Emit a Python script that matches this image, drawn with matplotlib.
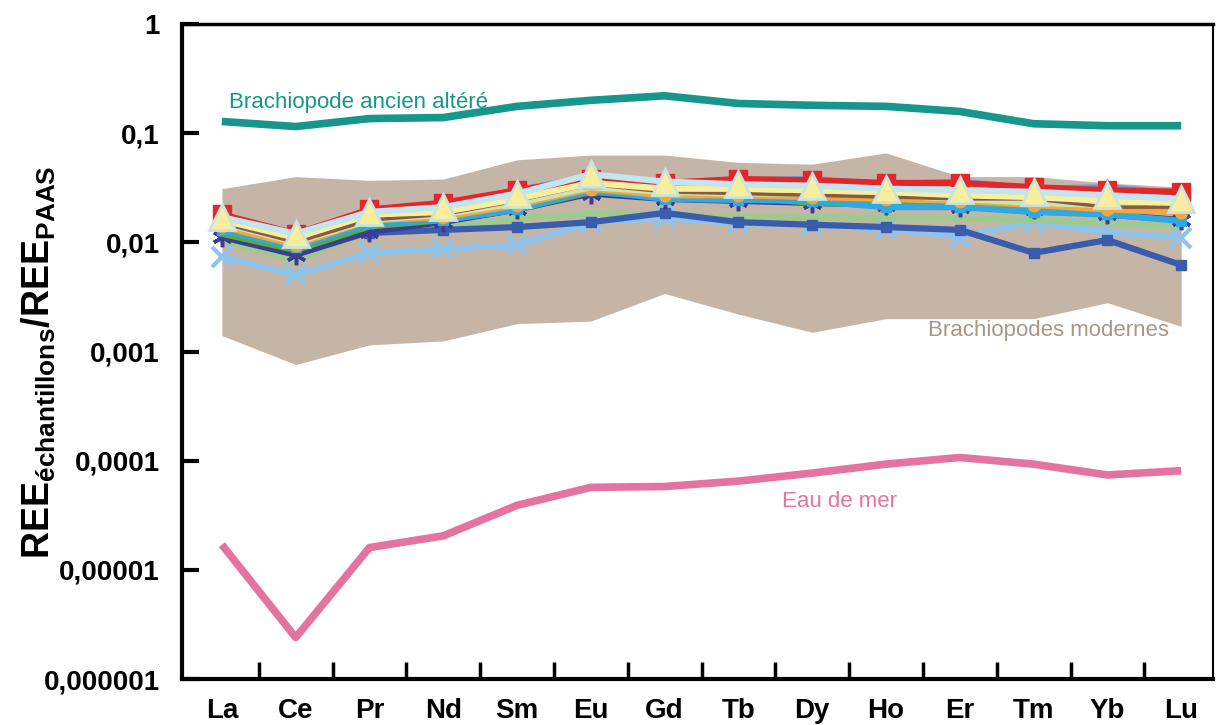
import matplotlib
matplotlib.use("Agg")
import matplotlib.pyplot as plt
import numpy as np

#--- terres rares ---#
elements = ["La", "Ce", "Pr", "Nd", "Sm", "Eu", "Gd", "Tb", "Dy", "Ho", "Er", "Tm", "Yb", "Lu"]

# brachiopodes modernes (enveloppe)
band_haut = [0.031, 0.040, 0.037, 0.038, 0.057, 0.063, 0.063, 0.054, 0.052, 0.066, 0.040, 0.040, 0.035, 0.032]
band_bas = [0.0014, 0.00076, 0.00115, 0.00125, 0.0018, 0.0019, 0.0034, 0.0022, 0.0015, 0.0020, 0.0020, 0.0020, 0.0028, 0.0017]

# brachiopode ancien altere
ancien = [0.128, 0.115, 0.136, 0.139, 0.176, 0.20, 0.22, 0.187, 0.18, 0.176, 0.158, 0.122, 0.117, 0.117]

# eau de mer
eau_mer = [1.7e-5, 2.4e-6, 1.6e-5, 2.05e-5, 3.9e-5, 5.7e-5, 5.8e-5, 6.5e-5, 7.7e-5, 9.3e-5, 1.07e-4, 9.3e-5, 7.4e-5, 8.1e-5]

# echantillons
ech_rouge = [0.018, 0.012, 0.020, 0.023, 0.030, 0.038, 0.035, 0.038, 0.037, 0.035, 0.035, 0.032, 0.030, 0.029]
ech_bleu_moyen = [0.017, 0.011, 0.019, 0.022, 0.030, 0.040, 0.035, 0.037, 0.038, 0.034, 0.036, 0.031, 0.032, 0.028]
ech_cyan_pale = [0.017, 0.012, 0.019, 0.021, 0.028, 0.042, 0.036, 0.034, 0.033, 0.031, 0.030, 0.029, 0.027, 0.025]
ech_jaune = [0.016, 0.011, 0.018, 0.019, 0.025, 0.035, 0.031, 0.031, 0.030, 0.029, 0.027, 0.026, 0.024, 0.023]
ech_brun = [0.015, 0.010, 0.016, 0.018, 0.024, 0.034, 0.029, 0.028, 0.027, 0.026, 0.025, 0.025, 0.021, 0.021]
ech_vert_pale = [0.015, 0.010, 0.016, 0.018, 0.023, 0.032, 0.029, 0.028, 0.028, 0.027, 0.025, 0.023, 0.022, 0.022]
ech_orange = [0.014, 0.0095, 0.016, 0.017, 0.022, 0.031, 0.027, 0.027, 0.026, 0.025, 0.024, 0.022, 0.020, 0.019]
ech_cyan = [0.013, 0.009, 0.015, 0.016, 0.020, 0.030, 0.025, 0.0245, 0.024, 0.021, 0.021, 0.019, 0.018, 0.0157]
ech_vert = [0.012, 0.0085, 0.014, 0.016, 0.020, 0.029, 0.026, 0.026, 0.023, 0.022, 0.021, 0.020, 0.018, 0.021]
ech_marine = [0.0112, 0.0077, 0.0125, 0.0154, 0.020, 0.028, 0.025, 0.024, 0.023, 0.022, 0.021, 0.020, 0.018, 0.016]
ech_vert_gris = [0.0105, 0.0068, 0.0125, 0.0135, 0.0165, 0.0185, 0.018, 0.017, 0.017, 0.0168, 0.0165, 0.016, 0.015, 0.0138]
ech_bleu_fonce = [0.013, 0.0104, 0.0122, 0.013, 0.0138, 0.0153, 0.0186, 0.0153, 0.0145, 0.0138, 0.013, 0.0080, 0.0105, 0.0062]
ech_bleu_clair = [0.0074, 0.0050, 0.0080, 0.0087, 0.0094, 0.0153, 0.0167, 0.015, 0.0145, 0.0133, 0.0113, 0.0153, 0.0124, 0.011]

x = np.arange(len(elements))

plt.rcParams["mathtext.fontset"] = "custom"
plt.rcParams["mathtext.bf"] = "Liberation Sans:bold"
plt.rcParams["mathtext.rm"] = "Liberation Sans:bold"

fig = plt.figure(figsize=(12.16, 7.25), dpi=100)
ax = fig.add_axes([0.1497, 0.0634, 0.8478, 0.9035])

#---enveloppe brachiopodes modernes---#
ax.fill_between(x, band_bas, band_haut, color="#c5b5a7", lw=0, zorder=1)

#---echantillons---#
lw = 4.5
ax.plot(x, ech_bleu_clair, color="#8fc3ea", lw=lw, marker="x", ms=14, mew=3, zorder=3)
ax.plot(x, ech_vert_gris, color="#9fca8f", lw=lw, zorder=3)
ax.plot(x, ech_bleu_fonce, color="#3a5dab", lw=lw, marker="s", ms=7, zorder=4)
ax.plot(x, ech_marine, color="#3c3c92", lw=lw, marker=(6, 2, 0), ms=14, mew=2.5, zorder=4)
ax.plot(x, ech_vert, color="#5aab3c", lw=lw, zorder=4)
ax.plot(x, ech_cyan, color="#2eaae2", lw=lw, marker="s", ms=7, zorder=5)
ax.plot(x, ech_orange, color="#f5a53a", lw=lw, marker="o", ms=9, zorder=5)
ax.plot(x, ech_vert_pale, color="#cbe3b5", lw=lw, zorder=5)
ax.plot(x, ech_brun, color="#8a5a40", lw=2.5, zorder=5)
ax.plot(x, ech_bleu_moyen, color="#6a9ed8", lw=lw, marker="^", ms=12, zorder=5)
ax.plot(x, ech_rouge, color="#e3262b", lw=lw, marker="s", ms=13, zorder=6)
ax.plot(x, ech_jaune, color="#f9ef9c", lw=lw, zorder=6)
ax.plot(x, ech_cyan_pale, color="#c3e5f0", lw=lw, marker="^", ms=19,
        mfc="#f8ee9e", mec="#c8e4dc", mew=2, zorder=7)

#---ancien et eau de mer---#
ax.plot(x, ancien, color="#17968b", lw=5.5, solid_capstyle="butt", zorder=8)
ax.plot(x, eau_mer, color="#e4739f", lw=5.5, solid_capstyle="butt", zorder=8)

ax.text(0.1, 0.19, "Brachiopode ancien altéré", color="#17968b", fontsize=16,
        family="Liberation Sans", va="center", ha="left")
ax.text(11.2, 0.00195, "Brachiopodes modernes", color="#a69787", fontsize=16,
        family="Liberation Sans", va="top", ha="center")
ax.text(8.37, 5.3e-5, "Eau de mer", color="#e4739f", fontsize=16,
        family="Liberation Sans", va="top", ha="center")

#---ejes---#
ax.set_yscale("log")
ax.set_ylim(1e-6, 1)
ax.set_xlim(-0.54, 13.43)
yt = [1e-6, 1e-5, 1e-4, 1e-3, 1e-2, 1e-1, 1]
ax.set_yticks(yt)
ax.set_yticklabels(["0,000001", "0,00001", "0,0001", "0,001", "0,01", "0,1", "1"],
                   fontsize=20, fontweight="bold", family="Liberation Sans")
ax.minorticks_off()
ax.set_xticks(x[:-1] + 0.5)
ax.set_xticklabels([])
ax.set_xticks(x, minor=True)
ax.set_xticklabels(elements, minor=True, fontsize=20, fontweight="bold",
                   family=["Liberation Sans Narrow", "Liberation Sans"])
ax.tick_params(axis="x", which="minor", length=0, pad=14)
ax.tick_params(axis="x", which="major", direction="in", length=12, width=2.5)
ax.tick_params(axis="y", which="major", direction="in", length=12, width=3, pad=16)

for s in ["left", "bottom"]:
    ax.spines[s].set_linewidth(3)
ax.spines["top"].set_linewidth(2.5)
ax.spines["right"].set_linewidth(1.5)

fig.text(0.032, 0.5, r"$\mathbf{REE}_{\mathbf{échantillons}}\mathbf{/REE}_{\mathbf{PAAS}}$",
         rotation=90, fontsize=27, va="center", ha="center")

plt.savefig("out.png", dpi=100)
